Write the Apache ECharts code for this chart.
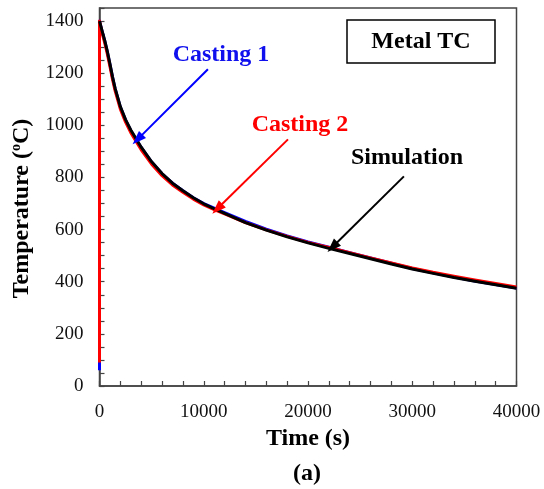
<!DOCTYPE html>
<html>
<head>
<meta charset="utf-8">
<title>Metal TC</title>
<script src="https://cdn.jsdelivr.net/npm/echarts@6/dist/echarts.min.js"></script>
<style>
  html, body { margin: 0; padding: 0; background: #fff; }
  #chart { width: 544px; height: 489px; }
</style>
</head>
<body>
<div id="chart"></div>
<script>
// 时间 (s)
var times = [0, 250, 500, 750, 1000, 1250, 1500, 2000, 2500, 3000, 4000, 5000, 6000, 7000, 8000, 9000, 10000,
  11000, 12000, 14000, 16000, 18000, 20000, 22000, 24000, 26000, 28000, 30000, 32000, 34000, 36000, 38000, 40000];
var simulation = [1400, 1362, 1326, 1284, 1236, 1186, 1142, 1072, 1022, 982, 916, 860, 815, 778, 749, 722, 699,
  680, 662, 627, 598, 572, 549, 528, 508, 488, 468, 449, 432, 416, 402, 388, 375];
var casting1 = [1400, 1360, 1324, 1282, 1234, 1184, 1140, 1070, 1020, 980, 915, 859, 814, 778, 749, 722, 700,
  682, 665, 631, 602, 576, 553, 532, 511, 491, 471, 451, 434, 418, 403, 389, 376];
var casting2 = [1400, 1354, 1316, 1274, 1226, 1176, 1132, 1062, 1012, 972, 906, 851, 807, 771, 743, 717, 695,
  677, 660, 627, 599, 574, 551, 531, 511, 491, 472, 453, 436, 421, 407, 393, 380];
// 热电偶起始读数 (t = 0)
var casting1Start = [0, 60];
var casting2Start = [0, 90];
var yLabels = [0, 200, 400, 600, 800, 1000, 1200, 1400];
var xLabels = [0, 10000, 20000, 30000, 40000];

var serif = "'Liberation Serif', 'Times New Roman', serif";

function pairs(xs, ys, start) {
  var arr = start ? [start] : [];
  for (var i = 0; i < xs.length; i++) {
    arr.push([xs[i], ys[i]]);
  }
  return arr;
}

function arrow(color, from, to) {
  return {
    silent: true,
    symbol: ['none', 'triangle'],
    symbolSize: [10, 14],
    label: { show: false },
    lineStyle: { color: color, width: 2, type: 'solid' },
    data: [[{ coord: from }, { coord: to }]]
  };
}

var myChart = echarts.init(document.getElementById('chart'));

var option = {
  backgroundColor: '#ffffff',
  animation: false,
  grid: {
    left: 99.5,
    right: 27.5,
    top: 8,
    bottom: 103,
    show: true,
    borderColor: '#444',
    borderWidth: 1.5
  },
  xAxis: {
    type: 'value',
    min: 0,
    max: 40000,
    interval: 2000,
    name: 'Time (s)',
    nameLocation: 'middle',
    nameGap: 41,
    nameTextStyle: { fontFamily: serif, fontSize: 24, fontWeight: 'bold', color: '#000' },
    axisLine: { show: true, lineStyle: { color: '#444', width: 1.5 } },
    axisTick: { show: true, inside: true, length: 5, lineStyle: { color: '#444', width: 1.2 } },
    axisLabel: {
      margin: 17,
      fontFamily: serif,
      fontSize: 19,
      color: '#111',
      formatter: function(v) {
        return xLabels.indexOf(v) >= 0 ? String(v) : '';
      }
    },
    splitLine: { show: false }
  },
  yAxis: {
    type: 'value',
    min: 0,
    max: 1450,
    interval: 50,
    name: 'Temperature ({sup|o}C)',
    nameLocation: 'middle',
    nameGap: 66,
    nameTextStyle: {
      fontFamily: serif, fontSize: 24, fontWeight: 'bold', color: '#000',
      padding: [0, 23, 0, 0],
      rich: {
        sup: { fontFamily: serif, fontSize: 14, fontWeight: 'bold', color: '#000', verticalAlign: 'top', padding: [0, 0, 10, 0] }
      }
    },
    axisLine: { show: true, lineStyle: { color: '#444', width: 1.5 } },
    axisTick: { show: true, inside: true, length: 5, lineStyle: { color: '#444', width: 1.2 } },
    axisLabel: {
      margin: 16,
      fontFamily: serif,
      fontSize: 19,
      color: '#111',
      formatter: function(v) {
        return yLabels.indexOf(v) >= 0 ? String(v) : '';
      }
    },
    splitLine: { show: false }
  },
  series: [
    {
      name: 'Casting 1',
      type: 'line',
      showSymbol: false,
      data: pairs(times, casting1, casting1Start),
      lineStyle: { color: '#0000ff', width: 3, join: 'round' },
      markLine: arrow('#0000ff', [10400, 1215], [3650, 946])
    },
    {
      name: 'Casting 2',
      type: 'line',
      showSymbol: false,
      data: pairs(times, casting2, casting2Start),
      lineStyle: { color: '#ff0000', width: 3, join: 'round' },
      markLine: arrow('#ff0000', [18080, 946], [11300, 680])
    },
    {
      name: 'Simulation',
      type: 'line',
      showSymbol: false,
      data: pairs(times, simulation),
      lineStyle: { color: '#000000', width: 3, join: 'round' },
      markLine: arrow('#000000', [29200, 804], [22350, 533])
    }
  ],
  graphic: [
    {
      type: 'rect',
      shape: { x: 347, y: 20, width: 148, height: 43 },
      style: { fill: '#fff', stroke: '#000', lineWidth: 1.5 }
    },
    {
      type: 'text', x: 421, y: 42,
      style: { text: 'Metal TC', font: 'bold 24px ' + serif, fill: '#000', align: 'center', verticalAlign: 'middle' }
    },
    {
      type: 'text', x: 221, y: 55,
      style: { text: 'Casting 1', font: 'bold 24px ' + serif, fill: '#1010ee', align: 'center', verticalAlign: 'middle' }
    },
    {
      type: 'text', x: 300, y: 125,
      style: { text: 'Casting 2', font: 'bold 24px ' + serif, fill: '#ff0000', align: 'center', verticalAlign: 'middle' }
    },
    {
      type: 'text', x: 407, y: 158,
      style: { text: 'Simulation', font: 'bold 24px ' + serif, fill: '#000', align: 'center', verticalAlign: 'middle' }
    },
    {
      type: 'text', x: 307, y: 474,
      style: { text: '(a)', font: 'bold 24px ' + serif, fill: '#000', align: 'center', verticalAlign: 'middle' }
    }
  ]
};

myChart.setOption(option);
window.addEventListener('resize', function() {
  myChart.resize();
});
</script>
</body>
</html>
